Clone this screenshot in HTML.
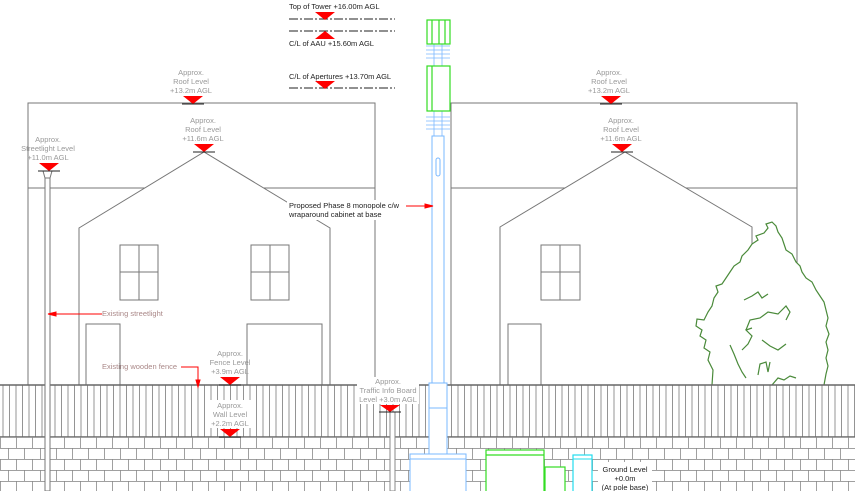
<!DOCTYPE html>
<html><head><meta charset="utf-8"><style>
html,body{margin:0;padding:0;background:#fff;}
svg{display:block;font-family:"Liberation Sans",Arial,sans-serif;}
.g{fill:#999;font-size:7.5px;text-anchor:middle;}
.k{fill:#222;font-size:7.5px;}
.r{fill:#aa8888;font-size:7.5px;}
</style></head><body>
<svg width="855" height="491" viewBox="0 0 855 491" xmlns="http://www.w3.org/2000/svg">
<defs>
<pattern id="fence" x="0" y="0" width="6.5" height="60" patternUnits="userSpaceOnUse">
<line x1="3" y1="0" x2="3" y2="60" stroke="#888" stroke-width="0.9"/>
</pattern>
<pattern id="brick" x="0" y="437" width="16" height="22" patternUnits="userSpaceOnUse">
<rect width="16" height="22" fill="#fff"/>
<line x1="0" y1="0.5" x2="16" y2="0.5" stroke="#888" stroke-width="0.8"/>
<line x1="0" y1="11.5" x2="16" y2="11.5" stroke="#888" stroke-width="0.8"/>
<line x1="0.5" y1="0" x2="0.5" y2="11" stroke="#888" stroke-width="0.8"/>
<line x1="8.5" y1="11" x2="8.5" y2="22" stroke="#888" stroke-width="0.8"/>
</pattern>
</defs>
<g fill="none" stroke="#777" stroke-width="1">
<rect x="28" y="103" width="347" height="282"/>
<line x1="28" y1="188" x2="375" y2="188"/>
<polyline points="79,385 79,228 204,152 330,228 330,385" fill="#fff"/>
<rect x="120" y="245" width="38" height="55"/><line x1="139" y1="245" x2="139" y2="300"/><line x1="120" y1="272" x2="158" y2="272"/>
<rect x="251" y="245" width="38" height="55"/><line x1="270" y1="245" x2="270" y2="300"/><line x1="251" y1="272" x2="289" y2="272"/>
<polyline points="86,385 86,324 120,324 120,385"/>
<polyline points="247,385 247,324 322,324 322,385"/>
<rect x="451" y="103" width="346" height="282"/>
<line x1="451" y1="188" x2="797" y2="188"/>
<polyline points="500,385 500,227 625,152 752,227 752,385" fill="#fff"/>
<rect x="541" y="245" width="39" height="55"/><line x1="560" y1="245" x2="560" y2="300"/><line x1="541" y1="272" x2="580" y2="272"/>
<polyline points="508,385 508,324 541,324 541,385"/>
</g>
<g fill="none" stroke="#4a8a3a" stroke-width="1.2">
<polyline fill="#fff" points="712,385 713,370 708,360 710,352 704,348 706,340 700,336 702,330 696,326 697,319 704,320 708,312 712,306 714,298 718,292 716,286 722,284 726,278 730,272 734,266 740,262 742,256 748,250 752,244 758,240 756,236 764,233 768,228 766,224 772,222 776,226 778,232 782,238 784,244 786,250 792,254 796,262 800,266 802,272 806,278 812,282 816,290 820,296 824,302 826,310 828,318 826,326 829,334 826,342 828,350 826,358 828,366 826,374 824,385"/>
<polyline points="744,300 752,296 758,292 762,298 768,294"/>
<polyline points="746,330 750,320 760,318 768,312 778,314 786,306 790,312 786,320"/>
<polyline points="742,350 748,344 752,336 746,330 752,328"/>
<polyline points="762,340 770,346 778,350 786,344"/>
<polyline points="730,345 734,354 738,364 742,372 746,378"/>
<polyline points="758,375 760,364 766,362 768,372 770,362"/>
<polyline points="772,385 778,378 784,380 790,376 796,378"/>
</g>
<rect x="0" y="385" width="855" height="52" fill="url(#fence)"/>
<line x1="0" y1="385" x2="855" y2="385" stroke="#666" stroke-width="1.5"/>
<line x1="0" y1="437" x2="855" y2="437" stroke="#666" stroke-width="1.5"/>
<rect x="0" y="437" width="855" height="54" fill="url(#brick)"/>
<rect x="45" y="176" width="5" height="315" fill="#fff" stroke="#777" stroke-width="1"/>
<path d="M43,171 L52,171 L50,178 L45,178 Z" fill="#fff" stroke="#777"/>
<rect x="390" y="412" width="5" height="79" fill="#fff" stroke="#888"/>
<g fill="#fff" stroke="#7ab8ff" stroke-width="1">
<rect x="432" y="136" width="12" height="318"/>
<rect x="436" y="158" width="4" height="18" rx="2"/>
<rect x="429" y="383" width="18" height="25"/>
<rect x="429" y="408" width="18" height="46"/>
<rect x="410" y="454" width="56" height="40"/>
<line x1="410" y1="459" x2="466" y2="459"/>
<g stroke-width="0.8">
<line x1="426" y1="46" x2="450" y2="46"/><line x1="426" y1="50" x2="450" y2="50"/><line x1="426" y1="54" x2="450" y2="54"/><line x1="426" y1="58" x2="450" y2="58"/>
<line x1="426" y1="117" x2="450" y2="117"/><line x1="426" y1="121" x2="450" y2="121"/><line x1="426" y1="125" x2="450" y2="125"/><line x1="426" y1="129" x2="450" y2="129"/>
<line x1="434" y1="44" x2="434" y2="136"/><line x1="442" y1="44" x2="442" y2="136"/>
</g>
</g>
<g fill="#fff" stroke="#33dd22" stroke-width="1.2">
<rect x="427" y="20" width="23" height="24"/>
<line x1="432" y1="20" x2="432" y2="44"/><line x1="439" y1="20" x2="439" y2="44"/><line x1="445" y1="20" x2="445" y2="44"/>
<rect x="427" y="66" width="23" height="45"/>
<line x1="432" y1="66" x2="432" y2="111"/>
<rect x="486" y="450" width="58" height="45"/>
<line x1="486" y1="455" x2="544" y2="455"/>
<rect x="545" y="467" width="20" height="30"/>
</g>
<rect x="573" y="455" width="19" height="40" fill="#fff" stroke="#22ddee" stroke-width="1.2"/>
<line x1="573" y1="459" x2="592" y2="459" stroke="#22ddee"/>
<g stroke="#222" stroke-width="1" stroke-dasharray="9,2,2,2">
<line x1="289" y1="19" x2="395" y2="19"/>
<line x1="289" y1="31" x2="395" y2="31"/>
<line x1="289" y1="88" x2="395" y2="88"/>
</g>
<g fill="#f00">
<polygon points="315,12 335,12 325,20"/>
<polygon points="315,39 335,39 325,31"/>
<polygon points="315,81 335,81 325,89"/>
<polygon points="183,96 203,96 193,104"/>
<polygon points="194,144 214,144 204,152"/>
<polygon points="39,163 59,163 49,171"/>
<polygon points="220,377 240,377 230,385"/>
<polygon points="220,429 240,429 230,437"/>
<polygon points="380,405 400,405 390,412"/>
<polygon points="601,96 621,96 611,104"/>
<polygon points="612,144 632,144 622,152"/>
</g>
<g stroke="#222" stroke-width="1">
<line x1="182" y1="104" x2="204" y2="104"/><line x1="193" y1="152" x2="215" y2="152"/><line x1="38" y1="171" x2="60" y2="171"/>
<line x1="219" y1="385" x2="241" y2="385"/><line x1="219" y1="437" x2="241" y2="437"/><line x1="379" y1="412" x2="401" y2="412"/>
<line x1="600" y1="104" x2="622" y2="104"/><line x1="611" y1="152" x2="633" y2="152"/>
</g>
<g stroke="#f00" stroke-width="1" fill="#f00">
<line x1="48" y1="314" x2="102" y2="314"/><polygon points="48,314 56,312 56,316"/>
<polyline fill="none" points="181,367 198,367 198,385"/><polygon points="198,387 196,380 200,380"/>
<line x1="406" y1="206" x2="432" y2="206"/><polygon points="433,206 425,204 425,208"/>
</g>
<rect x="287" y="200" width="114" height="20" fill="#fff"/>
<text class="k" x="289" y="9">Top of Tower +16.00m AGL</text>
<text class="k" x="289" y="46">C/L of AAU +15.60m AGL</text>
<text class="k" x="289" y="79">C/L of Apertures +13.70m AGL</text>
<text class="k" x="289" y="208">Proposed Phase 8 monopole c/w</text>
<text class="k" x="289" y="217">wraparound cabinet at base</text>
<text class="g" x="191" y="75">Approx.</text><text class="g" x="191" y="84">Roof Level</text><text class="g" x="191" y="93">+13.2m AGL</text>
<text class="g" x="203" y="123">Approx.</text><text class="g" x="203" y="132">Roof Level</text><text class="g" x="203" y="141">+11.6m AGL</text>
<text class="g" x="48" y="142">Approx.</text><text class="g" x="48" y="151">Streetlight Level</text><text class="g" x="48" y="160">+11.0m AGL</text>
<text class="g" x="609" y="75">Approx.</text><text class="g" x="609" y="84">Roof Level</text><text class="g" x="609" y="93">+13.2m AGL</text>
<text class="g" x="621" y="123">Approx.</text><text class="g" x="621" y="132">Roof Level</text><text class="g" x="621" y="141">+11.6m AGL</text>
<text class="g" x="230" y="356">Approx.</text><text class="g" x="230" y="365">Fence Level</text><text class="g" x="230" y="374">+3.9m AGL</text>
<rect x="208" y="400" width="46" height="28" fill="#fff"/>
<text class="g" x="230" y="408">Approx.</text><text class="g" x="230" y="417">Wall Level</text><text class="g" x="230" y="426">+2.2m AGL</text>
<rect x="357" y="377" width="62" height="27" fill="#fff"/>
<text class="g" x="388" y="384">Approx.</text><text class="g" x="388" y="393">Traffic Info Board</text><text class="g" x="388" y="402">Level +3.0m AGL</text>
<text class="r" x="102" y="316">Existing streetlight</text>
<text class="r" x="102" y="369">Existing wooden fence</text>
<rect x="598" y="462" width="54" height="29" fill="#fff"/>
<text class="k" x="625" y="472" style="text-anchor:middle">Ground Level</text>
<text class="k" x="625" y="481" style="text-anchor:middle">+0.0m</text>
<text class="k" x="625" y="490" style="text-anchor:middle">(At pole base)</text>
</svg>
</body></html>
